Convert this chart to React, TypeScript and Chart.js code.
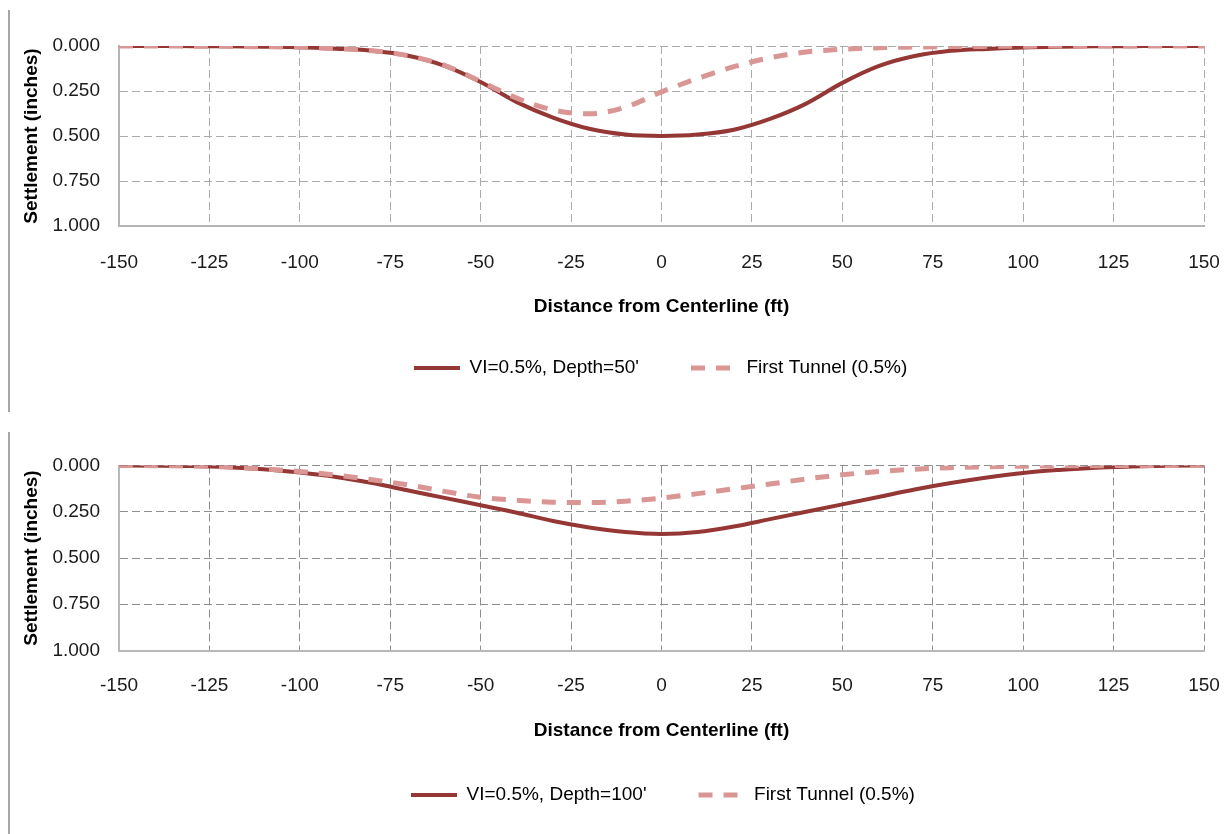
import React, { useEffect, useRef } from "react";
import { Chart, registerables } from "chart.js";

Chart.register(...registerables);

// ---------- data ----------
const xValues = [-150, -140, -130, -120, -110, -100, -90, -80, -70, -60, -50, -40, -30, -20, -10, 0, 10, 20, 30, 40, 50, 60, 70, 80, 90, 100, 110, 120, 130, 140, 150];

const topSolid = [0, 0, 0.001, 0.002, 0.004, 0.007, 0.015, 0.026, 0.054, 0.11, 0.2, 0.312, 0.398, 0.46, 0.492, 0.5, 0.492, 0.465, 0.405, 0.32, 0.205, 0.112, 0.056, 0.027, 0.016, 0.008, 0.004, 0.002, 0.001, 0, 0];
const topDashed = [0, 0, 0.001, 0.002, 0.004, 0.007, 0.015, 0.026, 0.054, 0.108, 0.197, 0.29, 0.355, 0.377, 0.34, 0.255, 0.18, 0.115, 0.065, 0.033, 0.018, 0.01, 0.006, 0.003, 0.002, 0.001, 0, 0, 0, 0, 0];

const bottomSolid = [0, 0.001, 0.003, 0.009, 0.02, 0.038, 0.062, 0.095, 0.135, 0.175, 0.215, 0.255, 0.3, 0.335, 0.36, 0.37, 0.36, 0.33, 0.29, 0.25, 0.21, 0.17, 0.13, 0.095, 0.065, 0.04, 0.024, 0.012, 0.006, 0.002, 0];
const bottomDashed = [0, 0.001, 0.003, 0.008, 0.018, 0.033, 0.052, 0.077, 0.105, 0.14, 0.172, 0.188, 0.198, 0.2, 0.193, 0.176, 0.152, 0.126, 0.1, 0.073, 0.05, 0.033, 0.02, 0.012, 0.007, 0.004, 0.002, 0.001, 0, 0, 0];

const topLabels = ["VI=0.5%, Depth=50'", "First Tunnel (0.5%)"];
const bottomLabels = ["VI=0.5%, Depth=100'", "First Tunnel (0.5%)"];
const yTitle = "Settlement (inches)";
const xTitle = "Distance from Centerline (ft)";
const xMin = -150;
const xMax = 150;
const xStep = 25;
const yMin = 0;
const yMax = 1;
const yStep = 0.25;

// ---------- styles ----------
const FONT = "'Liberation Sans', Arial, sans-serif";
const SOLID_COLOR = "#953735";
const DASH_COLOR = "#D99694";

const legendPlace = {
  id: "legendPlace",
  afterLayout(chart: any, _args: any, opts: any) {
    const lg = chart.legend;
    if (!lg || !lg.lineWidths) return;
    const P = lg.options.labels.padding;
    const cur = (lg.left + P + lg.right - lg.lineWidths[0]) / 2;
    const dx = opts.x - cur;
    lg.left += dx;
    lg.right += dx;
    lg.top = opts.y - P - opts.fontSize / 2;
    lg.bottom = lg.top + lg.height;
  },
};

type Props = {
  labels: string[];
  solid: number[];
  dashed: number[];
  left: number;
  top: number;
  width: number;
  height: number;
  padTop: number;
  padBottom: number;
  xAxisHeight: number;
  xTickPad: number;
  gridColor: string;
  axisColor: string;
  legendX: number;
  legendY: number;
};

function SettlementChart(p: Props) {
  const ref = useRef<HTMLCanvasElement | null>(null);
  useEffect(() => {
    if (!ref.current) return;
    const tickFont = { family: FONT, size: 19 };
    const titleFont = { family: FONT, size: 19, weight: "bold" as const };
    const chart = new Chart(ref.current, {
      type: "line",
      data: {
        datasets: [
          {
            label: p.labels[0],
            data: xValues.map((x, i) => ({ x, y: p.solid[i] })),
            borderColor: SOLID_COLOR,
            backgroundColor: SOLID_COLOR,
            borderWidth: 4,
            pointRadius: 0,
            cubicInterpolationMode: "monotone",
            fill: false,
            order: 2,
          },
          {
            label: p.labels[1],
            data: xValues.map((x, i) => ({ x, y: p.dashed[i] })),
            borderColor: DASH_COLOR,
            backgroundColor: DASH_COLOR,
            borderWidth: 5,
            borderDash: [14, 11],
            pointRadius: 0,
            cubicInterpolationMode: "monotone",
            fill: false,
            order: 1,
          },
        ],
      },
      options: {
        responsive: false,
        animation: false,
        events: [],
        layout: { padding: { top: p.padTop, bottom: p.padBottom, left: 0, right: 24 } },
        scales: {
          x: {
            type: "linear",
            min: xMin,
            max: xMax,
            ticks: { stepSize: xStep, padding: p.xTickPad, color: "#1a1a1a", font: tickFont, maxRotation: 0 },
            grid: { color: p.gridColor, lineWidth: 1, drawTicks: false },
            border: { display: true, color: p.axisColor, width: 2, dash: [8, 4] },
            title: { display: true, text: xTitle, color: "#000", font: titleFont, padding: { top: 0, bottom: 0 } },
            afterFit: (s: any) => {
              s.height = p.xAxisHeight;
              s.paddingLeft = 0;
              s.paddingRight = 0;
            },
          },
          y: {
            min: yMin,
            max: yMax,
            reverse: true,
            ticks: {
              stepSize: yStep,
              padding: 19,
              color: "#1a1a1a",
              font: tickFont,
              callback: (v: any) => Number(v).toFixed(3),
            },
            grid: { color: p.gridColor, lineWidth: 1, drawTicks: false },
            border: { display: true, color: p.axisColor, width: 2, dash: [8, 4] },
            title: { display: true, text: yTitle, color: "#000", font: titleFont, padding: { top: 10, bottom: 0 } },
            afterFit: (s: any) => {
              s.width = 109;
              s.paddingTop = 0;
              s.paddingBottom = 0;
            },
          },
        },
        plugins: {
          tooltip: { enabled: false },
          legend: {
            display: true,
            position: "bottom",
            labels: {
              usePointStyle: true,
              pointStyle: "line",
              pointStyleWidth: 46,
              padding: 52,
              color: "#000",
              font: { family: FONT, size: 19 },
              sort: (a: any, b: any) => a.datasetIndex - b.datasetIndex,
              generateLabels: (c: any) => {
                const items = (Chart.defaults.plugins.legend.labels as any).generateLabels(c);
                items.forEach((it: any) => {
                  const ds: any = c.data.datasets[it.datasetIndex];
                  it.lineDash = ds.borderDash || [];
                  it.lineWidth = ds.borderWidth;
                  it.strokeStyle = ds.borderColor;
                  it.pointStyle = "line";
                });
                return items;
              },
            },
          },
          legendPlace: { x: p.legendX - p.left, y: p.legendY - p.top, fontSize: 19 },
        } as any,
      },
      plugins: [legendPlace],
    });
    return () => chart.destroy();
  }, []);
  return (
    <canvas
      ref={ref}
      width={p.width}
      height={p.height}
      style={{ position: "absolute", left: p.left, top: p.top, width: p.width, height: p.height }}
    />
  );
}

export default function App() {
  return (
    <div
      style={{
        position: "fixed",
        left: 0,
        top: 0,
        width: 1228,
        height: 834,
        background: "#fff",
        overflow: "hidden",
      }}
    >
      <div style={{ position: "absolute", left: 8, top: 10, width: 2, height: 402, background: "#a6a6a6" }} />
      <div style={{ position: "absolute", left: 8, top: 432, width: 2, height: 402, background: "#a6a6a6" }} />
      <SettlementChart
        labels={topLabels}
        solid={topSolid}
        dashed={topDashed}
        left={10}
        top={10}
        width={1218}
        height={402}
        padTop={36}
        padBottom={13}
        xAxisHeight={92}
        xTickPad={25}
        gridColor="#ababab"
        axisColor="#b5b5b5"
        legendX={414}
        legendY={368}
      />
      <SettlementChart
        labels={bottomLabels}
        solid={bottomSolid}
        dashed={bottomDashed}
        left={10}
        top={433}
        width={1218}
        height={400}
        padTop={32.5}
        padBottom={9.5}
        xAxisHeight={92}
        xTickPad={24}
        gridColor="#8e8e8e"
        axisColor="#b8b8b8"
        legendX={411}
        legendY={795}
      />
    </div>
  );
}
